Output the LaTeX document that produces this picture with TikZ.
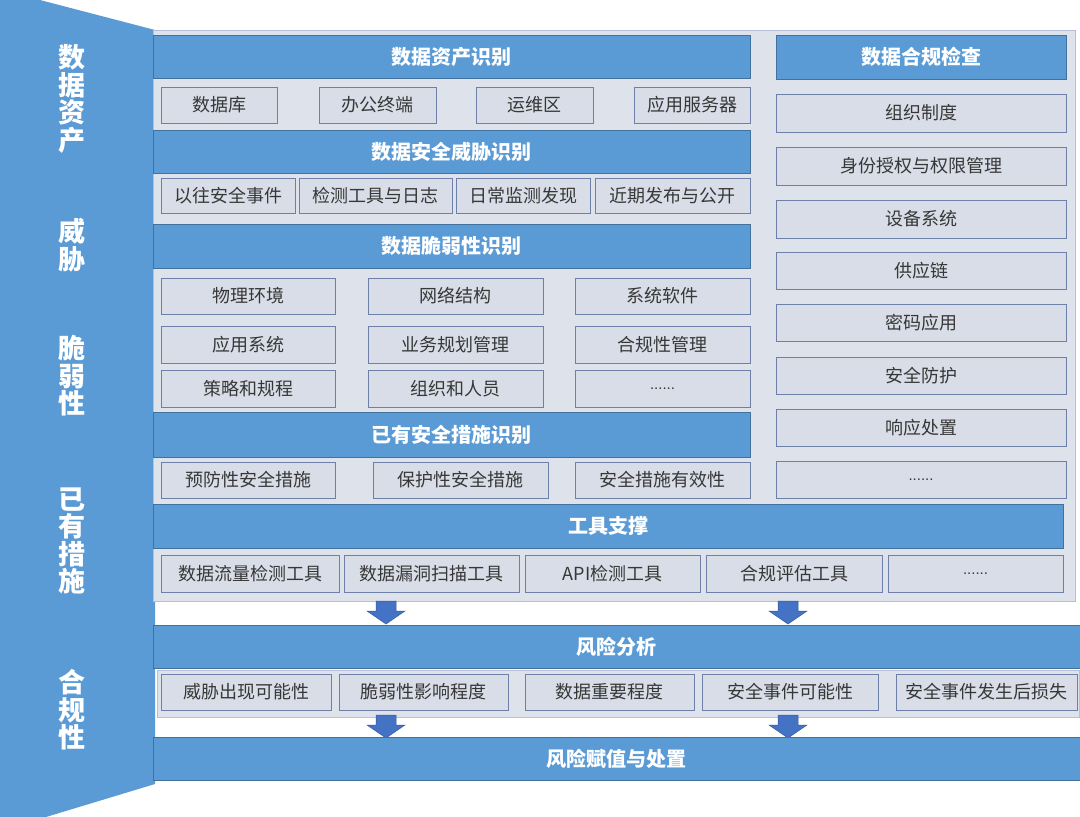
\documentclass[tikz,border=0pt]{standalone}
\usepackage{fontspec}
\setmainfont{Noto Sans CJK SC}
\newfontfamily\dotfont{Liberation Sans}
\usetikzlibrary{calc}
\definecolor{barblue}{RGB}{91,155,213}
\definecolor{hdrblue}{RGB}{91,155,213}
\definecolor{hdrline}{RGB}{65,113,156}
\definecolor{panelbg}{RGB}{221,226,235}
\definecolor{itembg}{RGB}{216,221,231}
\definecolor{itemline}{RGB}{110,128,170}
\definecolor{arrowblue}{RGB}{68,114,196}
\definecolor{txt}{RGB}{55,55,55}
\tikzset{
  hdr/.style={fill=hdrblue, draw=hdrline, line width=0.8pt, text=white, font=\fontsize{20}{22}\selectfont\bfseries, inner sep=0pt, outer sep=0pt},
  itm/.style={fill=itembg, draw=itemline, line width=0.8pt, text=txt, font=\fontsize{18}{20}\selectfont, inner sep=0pt, outer sep=0pt},
  sidetxt/.style={text=white, font=\fontsize{27}{27.5}\selectfont\bfseries, align=center, inner sep=0pt},
  blockarrow/.style={fill=arrowblue, draw=arrowblue!80!black, line width=0.5pt}
}
\newcommand\bx[7]{\node[#7, minimum width={(#4)-(#2)}, minimum height={(#5)-(#3)}] (#1) at ({((#2)+(#4))/2},{((#3)+(#5))/2}) {#6};}
\newcommand\barrow[3]{% name, center x, top y
  \coordinate (#1) at (#2,#3);
  \fill[blockarrow] ($(#1)+(-10,0)$) -- ($(#1)+(10,0)$) -- ($(#1)+(10,10)$) -- ($(#1)+(19,10)$) -- ($(#1)+(0,23)$) -- ($(#1)+(-19,10)$) -- ($(#1)+(-10,10)$) -- cycle;}
\newcommand\moredots{{\dotfont\fontsize{15}{17}\selectfont ......}}
\begin{document}
\begin{tikzpicture}[x=1pt,y=-1pt]
\useasboundingbox (0,0) rectangle (1080,817);
\fill[white] (0,0) rectangle (1080,817);
% left bar
\fill[barblue] (0,0) -- (40,0) -- (155,30) -- (155,784) -- (46,817) -- (0,817) -- cycle;
\node[sidetxt] (s1) at (72,99) {数\\据\\资\\产};
\node[sidetxt] (s2) at (72,245) {威\\胁};
\node[sidetxt] (s3) at (72,376) {脆\\弱\\性};
\node[sidetxt] (s4) at (72,541) {已\\有\\措\\施};
\node[sidetxt] (s5) at (72,710) {合\\规\\性};
% main panel
\bx{panel}{153}{30}{1075}{601}{}{fill=panelbg, draw=itemline!50, line width=0.8pt, inner sep=0pt, outer sep=0pt}
% data assets
\bx{h1}{153}{35}{750}{78}{数据资产识别}{hdr}
\bx{a1}{161}{87}{277}{123}{数据库}{itm}
\bx{a2}{319}{87}{436}{123}{办公终端}{itm}
\bx{a3}{476}{87}{593}{123}{运维区}{itm}
\bx{a4}{634}{87}{750}{123}{应用服务器}{itm}
% threats
\bx{h2}{153}{130}{750}{173}{数据安全威胁识别}{hdr}
\bx{t1}{161}{178}{295}{213}{以往安全事件}{itm}
\bx{t2}{299}{178}{452}{213}{检测工具与日志}{itm}
\bx{t3}{456}{178}{590}{213}{日常监测发现}{itm}
\bx{t4}{595}{178}{750}{213}{近期发布与公开}{itm}
% vulnerabilities
\bx{h3}{153}{224}{750}{268}{数据脆弱性识别}{hdr}
\bx{v1}{161}{278}{335}{314}{物理环境}{itm}
\bx{v2}{368}{278}{543}{314}{网络结构}{itm}
\bx{v3}{575}{278}{750}{314}{系统软件}{itm}
\bx{v4}{161}{326}{335}{363}{应用系统}{itm}
\bx{v5}{368}{326}{543}{363}{业务规划管理}{itm}
\bx{v6}{575}{326}{750}{363}{合规性管理}{itm}
\bx{v7}{161}{370}{335}{407}{策略和规程}{itm}
\bx{v8}{368}{370}{543}{407}{组织和人员}{itm}
\bx{v9}{575}{370}{750}{407}{\moredots}{itm}
% existing measures
\bx{h4}{153}{412}{750}{457}{已有安全措施识别}{hdr}
\bx{m1}{161}{462}{335}{498}{预防性安全措施}{itm}
\bx{m2}{373}{462}{548}{498}{保护性安全措施}{itm}
\bx{m3}{575}{462}{750}{498}{安全措施有效性}{itm}
% tools
\bx{h5}{153}{504}{1063}{548}{工具支撑}{hdr}
\bx{u1}{161}{555}{339}{592}{数据流量检测工具}{itm}
\bx{u2}{344}{555}{519}{592}{数据漏洞扫描工具}{itm}
\bx{u3}{525}{555}{700}{592}{API检测工具}{itm}
\bx{u4}{706}{555}{882}{592}{合规评估工具}{itm}
\bx{u5}{888}{555}{1063}{592}{\moredots}{itm}
% compliance
\bx{h6}{776}{35}{1066}{79}{数据合规检查}{hdr}
\bx{c1}{776}{94}{1066}{132}{组织制度}{itm}
\bx{c2}{776}{147}{1066}{185}{身份授权与权限管理}{itm}
\bx{c3}{776}{200}{1066}{238}{设备系统}{itm}
\bx{c4}{776}{252}{1066}{289}{供应链}{itm}
\bx{c5}{776}{304}{1066}{341}{密码应用}{itm}
\bx{c6}{776}{357}{1066}{394}{安全防护}{itm}
\bx{c7}{776}{409}{1066}{446}{响应处置}{itm}
\bx{c8}{776}{461}{1066}{498}{\moredots}{itm}
% arrows 1
\barrow{ar1}{386}{601}
\barrow{ar2}{788}{601}
% risk analysis
\bx{h7}{153}{625}{1080}{668}{风险分析}{hdr}
\bx{rbg}{157}{670}{1079}{717}{}{fill=panelbg, draw=itemline!50, line width=0.8pt, inner sep=0pt, outer sep=0pt}
\bx{r1}{161}{674}{331}{710}{威胁出现可能性}{itm}
\bx{r2}{339}{674}{508}{710}{脆弱性影响程度}{itm}
\bx{r3}{525}{674}{694}{710}{数据重要程度}{itm}
\bx{r4}{702}{674}{878}{710}{安全事件可能性}{itm}
\bx{r5}{896}{674}{1077}{710}{安全事件发生后损失}{itm}
% arrows 2
\barrow{ar3}{386}{715}
\barrow{ar4}{788}{715}
% final
\bx{h8}{153}{737}{1080}{780}{风险赋值与处置}{hdr}
\end{tikzpicture}
\end{document}
